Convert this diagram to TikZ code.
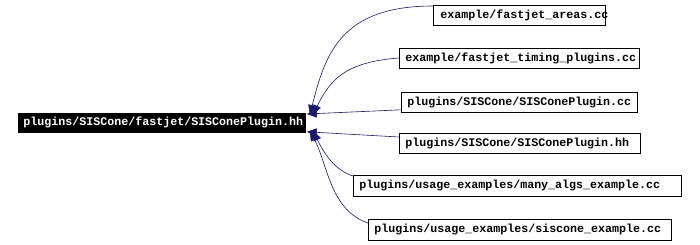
\documentclass[tikz,border=0pt]{standalone}
\usepackage{fontspec}
\setmonofont{Liberation Mono}
\usetikzlibrary{arrows.meta}
\definecolor{edgecol}{HTML}{191970}
\begin{document}
\begin{tikzpicture}[x=1bp,y=-1bp,
  box/.style={draw=black, line width=0.8bp, fill=white, anchor=north west, inner ysep=0pt, inner xsep=6bp,
    font=\ttfamily\bfseries\fontsize{11.7}{13}\selectfont, align=left},
  mainbox/.style={box, fill=black, draw=black, text=white, inner xsep=5bp},
  edge/.style={draw=edgecol, line width=0.6bp, {Triangle[length=10bp,width=8bp]}-}]
\useasboundingbox (0,0) rectangle (700,244);
\node[mainbox, minimum height=19bp, text width=277bp] (main) at (18,113) {plugins/SISCone/fastjet/SISConePlugin.hh};
\node[box, minimum height=20bp, text width=158bp, inner xsep=7bp] (b1) at (433,5) {example/fastjet\_areas.cc};
\node[box, minimum height=20bp, text width=228bp] (b2) at (399,48) {example/fastjet\_timing\_plugins.cc};
\node[box, minimum height=20bp, text width=224bp] (b3) at (401,92) {plugins/SISCone/SISConePlugin.cc};
\node[box, minimum height=20bp, text width=229bp] (b4) at (399,133) {plugins/SISCone/SISConePlugin.hh};
\node[box, minimum height=21bp, text width=316bp] (b5) at (353,175) {plugins/usage\_examples/many\_algs\_example.cc};
\node[box, minimum height=21bp, text width=291bp] (b6) at (368,219) {plugins/usage\_examples/siscone\_example.cc};
\path[edge] ([xshift=4bp,yshift=-2bp]main.north east) .. controls (325,55) and (340,6) .. ([yshift=-1bp]b1.north west);
\path[edge] ([xshift=7bp,yshift=-2bp]main.north east) .. controls (330,80) and (345,62) .. ([yshift=-10bp]b2.north west);
\path[edge] ([xshift=1bp,yshift=-1bp]main.north east) -- ([yshift=3bp]b3.south west);
\path[edge] ([xshift=1bp,yshift=1bp]main.south east) -- ([yshift=-4bp]b4.north west);
\path[edge] ([xshift=7bp,yshift=2bp]main.south east) .. controls (325,155) and (335,170) .. ([yshift=-1bp]b5.north west);
\path[edge] ([xshift=4bp,yshift=2bp]main.south east) .. controls (328,165) and (330,210) .. ([yshift=-4bp]b6.north west);
\end{tikzpicture}
\end{document}
